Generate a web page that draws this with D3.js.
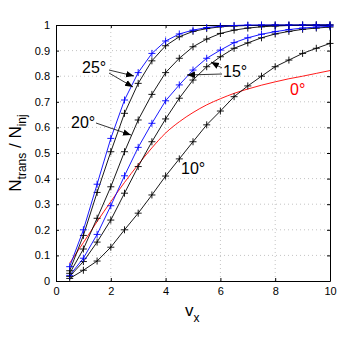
<!DOCTYPE html>
<html>
<head>
<meta charset="utf-8">
<script src="https://cdn.jsdelivr.net/npm/d3@7"></script>
<style>
body { margin: 0; background: #fff; }
svg text { font-family: "Liberation Sans", Arial, sans-serif; }
</style>
</head>
<body>
<div class="chart"></div>
<script>
var vx = [0.5, 1, 1.5, 2, 2.5, 3, 3.5, 4, 4.5, 5, 5.5, 6, 6.5, 7, 7.5, 8, 8.5, 9, 9.5, 10]

var blue25 = [0.056, 0.2, 0.378, 0.557, 0.707, 0.814, 0.889, 0.9375, 0.965, 0.98, 0.99, 0.995, 0.998, 1, 1, 1, 1, 1, 1, 1]
var black25 = [0.04, 0.178, 0.346, 0.505, 0.655, 0.772, 0.86, 0.919, 0.954, 0.975, 0.986, 0.993, 0.996, 0.998, 0.999, 1, 1, 1, 1, 1]
var black20 = [0.03, 0.125, 0.245, 0.368, 0.505, 0.629, 0.729, 0.814, 0.87, 0.915, 0.945, 0.967, 0.98, 0.988, 0.993, 0.996, 0.998, 0.999, 1, 1]
var blue15 = [0.022, 0.089, 0.182, 0.294, 0.411, 0.522, 0.616, 0.704, 0.766, 0.824, 0.87, 0.902, 0.931, 0.95, 0.964, 0.974, 0.982, 0.988, 0.992, 0.995]
var black15 = [0.018, 0.076, 0.152, 0.238, 0.343, 0.447, 0.544, 0.633, 0.714, 0.785, 0.837, 0.876, 0.909, 0.93, 0.95, 0.965, 0.975, 0.983, 0.988, 0.992]
var black10 = [0.01, 0.042, 0.078, 0.132, 0.2, 0.265, 0.336, 0.41, 0.477, 0.544, 0.61, 0.664, 0.72, 0.762, 0.8, 0.837, 0.863, 0.889, 0.909, 0.928]
var red0 = [0.07, 0.15, 0.232, 0.31, 0.385, 0.455, 0.52, 0.578, 0.622, 0.658, 0.688, 0.712, 0.733, 0.75, 0.765, 0.778, 0.79, 0.8, 0.811, 0.822]

var xTicks = [0, 2, 4, 6, 8, 10]
var yTicks = [0, 0.1, 0.2, 0.3, 0.4, 0.5, 0.6, 0.7, 0.8, 0.9, 1]

var svg = d3.select(".chart")
  .append("svg")
  .attr("width", 344)
  .attr("height", 344)

var x = d3.scaleLinear().domain([0, 10]).range([56, 330])
var y = d3.scaleLinear().domain([0, 1]).range([281, 25])

// grid
xTicks.forEach(function (t) {
  if (t == 0 || t == 10) return
  svg.append("line")
    .attr("x1", x(t)).attr("x2", x(t))
    .attr("y1", y(0)).attr("y2", y(1))
    .style("stroke", "#aaa")
    .style("stroke-width", 0.7)
    .style("stroke-dasharray", "1,3")
})
yTicks.forEach(function (t) {
  if (t == 0 || t == 1) return
  svg.append("line")
    .attr("x1", x(0)).attr("x2", x(10))
    .attr("y1", y(t)).attr("y2", y(t))
    .style("stroke", "#aaa")
    .style("stroke-width", 0.7)
    .style("stroke-dasharray", "1,3")
})

// axes
svg.append("g")
  .attr("transform", "translate(0," + y(0) + ")")
  .call(d3.axisBottom(x).tickValues(xTicks).tickSizeInner(-3).tickSizeOuter(0).tickPadding(6))
svg.append("g")
  .attr("transform", "translate(0," + y(1) + ")")
  .call(d3.axisTop(x).tickValues(xTicks).tickSizeInner(-3).tickSizeOuter(0).tickFormat(""))
svg.append("g")
  .attr("transform", "translate(" + x(0) + ",0)")
  .call(d3.axisLeft(y).tickValues(yTicks).tickSizeInner(-3).tickSizeOuter(0).tickPadding(6).tickFormat(d3.format("~g")))
svg.append("g")
  .attr("transform", "translate(" + x(10) + ",0)")
  .call(d3.axisRight(y).tickValues(yTicks).tickSizeInner(-3).tickSizeOuter(0).tickFormat(""))

svg.selectAll(".tick text")
  .style("font-size", "11px")
  .attr("font-family", "Liberation Sans, Arial, sans-serif")
svg.selectAll(".domain, .tick line").style("stroke", "#000")

// curves
var line = d3.line()
  .x(function (d, i) { return x(vx[i]) })
  .y(function (d) { return y(d) })

var series = [
  { v: red0, c: "#ff0000", mark: false },
  { v: black10, c: "#000000", mark: true },
  { v: black15, c: "#000000", mark: true },
  { v: blue15, c: "#0000ff", mark: true },
  { v: black20, c: "#000000", mark: true },
  { v: black25, c: "#000000", mark: true },
  { v: blue25, c: "#0000ff", mark: true }
]

series.forEach(function (s) {
  svg.append("path")
    .datum(s.v)
    .attr("d", s.mark ? line : line.curve(d3.curveMonotoneX))
    .style("fill", "none")
    .style("stroke", s.c)
    .style("stroke-width", 0.9)
  line.curve(d3.curveLinear)
  if (!s.mark) return
  s.v.forEach(function (d, i) {
    var cx = x(vx[i]), cy = y(d)
    svg.append("path")
      .attr("d", "M" + (cx - 3.5) + "," + cy + "H" + (cx + 3.5) + "M" + cx + "," + (cy - 3.5) + "V" + (cy + 3.5))
      .style("stroke", s.c)
      .style("stroke-width", 0.9)
  })
})

// annotations
svg.append("defs").append("marker")
  .attr("id", "arr")
  .attr("viewBox", "0 0 10 10")
  .attr("refX", 10).attr("refY", 5)
  .attr("markerWidth", 8).attr("markerHeight", 8)
  .attr("markerUnits", "userSpaceOnUse")
  .attr("orient", "auto")
  .append("path")
  .attr("d", "M0,1 L10,5 L0,9 Z")
  .style("fill", "#000")

function arrow(x1, y1, x2, y2) {
  svg.append("line")
    .attr("x1", x1).attr("y1", y1)
    .attr("x2", x2).attr("y2", y2)
    .style("stroke", "#000")
    .style("stroke-width", 0.8)
    .attr("marker-end", "url(#arr)")
}

function label(tx, ty, txt, col) {
  svg.append("text")
    .attr("x", tx).attr("y", ty)
    .text(txt)
    .style("font-size", "16px")
    .attr("fill", col)
}

label(82, 73, "25°", "#000")
arrow(109, 70, 134, 76)
arrow(109, 73, 133, 87)

label(71, 128, "20°", "#000")
arrow(96, 123, 131, 135)

label(223, 77, "15°", "#000")
arrow(222, 68, 211, 62)
arrow(222, 74, 187, 75)

label(181, 174, "10°", "#000")
label(290, 95, "0°", "#ff0000")

// axis labels
svg.append("text")
  .attr("x", 185).attr("y", 316)
  .style("font-size", "17px")
  .text("v")
  .append("tspan")
  .attr("dy", 6)
  .style("font-size", "12px")
  .text("x")

var yl = svg.append("text")
  .attr("transform", "translate(21,153) rotate(-90)")
  .attr("text-anchor", "middle")
  .style("font-size", "17px")
yl.append("tspan").text("N")
yl.append("tspan").attr("dy", 5).style("font-size", "12px").text("trans")
yl.append("tspan").attr("dy", -5).text(" / N")
yl.append("tspan").attr("dy", 5).style("font-size", "12px").text("inj")
</script>
</body>
</html>
